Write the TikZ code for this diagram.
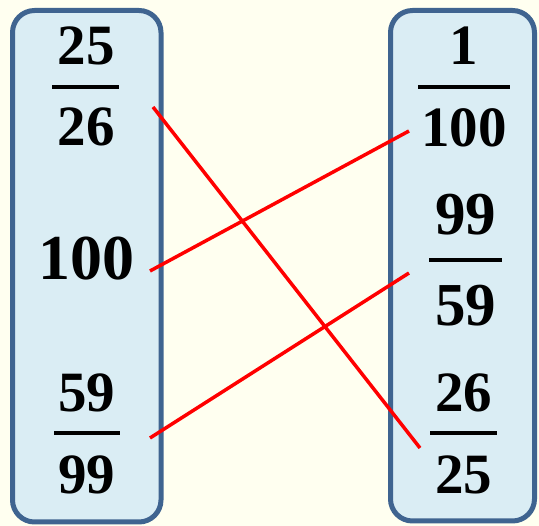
\documentclass[tikz,border=0pt]{standalone}
\usepackage{fontspec}
\setmainfont{Liberation Serif}
\usepackage{xcolor}
\usepackage{tikz}
\usetikzlibrary{positioning,calc}
\definecolor{bgyellow}{RGB}{255,255,240}
\definecolor{boxfill}{RGB}{218,237,244}
\definecolor{boxline}{RGB}{63,100,144}

\begin{document}
\begin{tikzpicture}[x=1pt, y=-1pt,
  col/.style={draw=boxline, fill=boxfill, line width=5pt, rounded corners=22pt},
  num/.style={inner sep=0pt, anchor=center, font=\bfseries\fontsize{57}{60}\selectfont},
  big/.style={num, font=\bfseries\fontsize{61}{66}\selectfont},
  bar/.style={line width=3.5pt, black},
  link/.style={red, line width=3.5pt}]
\useasboundingbox (0,0) rectangle (539,526);
\fill[bgyellow] (0,0) rectangle (539,526);
\draw[col] (12.5,10.5) rectangle (161,522);
\draw[col] (390.5,10.5) rectangle (534.5,521);
% left column
\node[num] (a1) at (86,46)  {25};
\node[num] (a2) at (86,127) {26};
\draw[bar] (52,87) -- (119,87);
\node[num, font=\bfseries\fontsize{64}{68}\selectfont] (b) at (86,259) {100};
\node[num] (c1) at (87,393) {59};
\node[num] (c2) at (87,475) {99};
\draw[bar] (54,433) -- (120,433);
% right column
\node[num] (d1) at (464,46)  {1};
\node[num] (d2) at (464,128) {100};
\draw[bar] (418,87) -- (510,87);
\node[big] (e1) at (465.5,215) {99};
\node[big] (e2) at (465.5,306) {59};
\draw[bar] (429,260) -- (502,260);
\node[num] (f1) at (463.5,393) {26};
\node[num] (f2) at (463.5,475) {25};
\draw[bar] (430,433) -- (497,433);
% matching lines
\coordinate (pa) at (153,107);
\coordinate (pb) at (150,271);
\coordinate (pc) at (150,438);
\coordinate (qd) at (409,131);
\coordinate (qe) at (409,273);
\coordinate (qf) at (420,448);
\draw[link] (pa) -- (qf);
\draw[link] (pb) -- (qd);
\draw[link] (pc) -- (qe);
\end{tikzpicture}
\end{document}
